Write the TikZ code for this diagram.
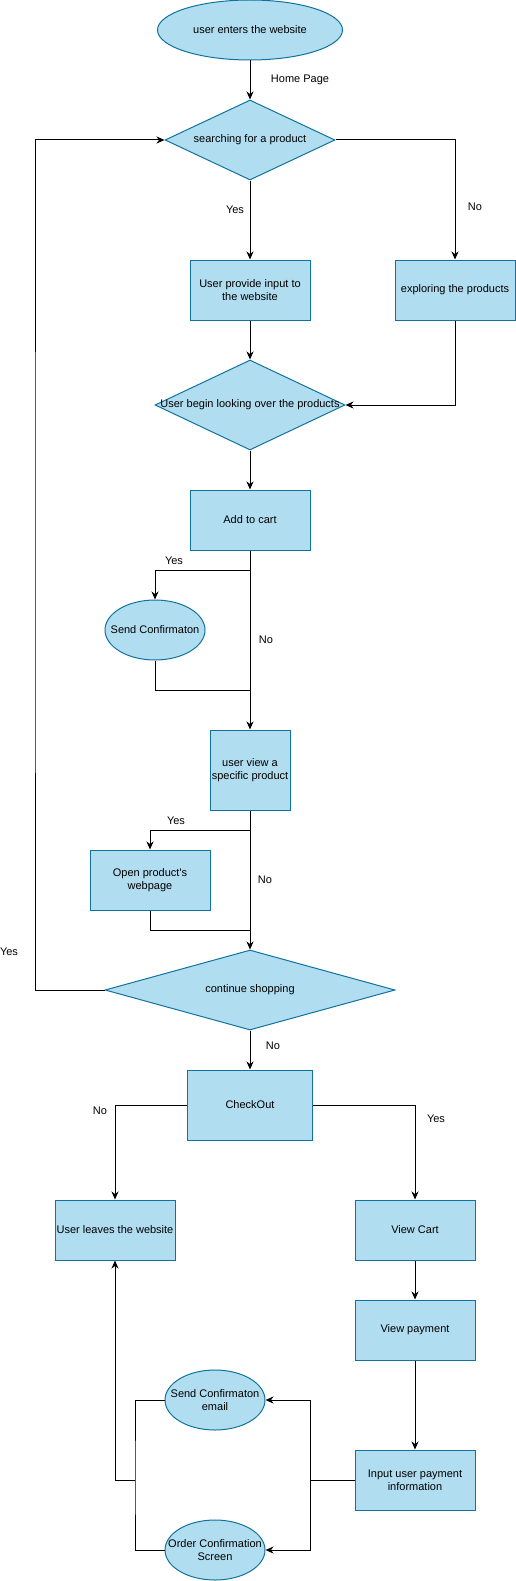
\documentclass[tikz,border=0pt]{standalone}
\usepackage{fontspec}
\setmainfont{Liberation Sans}
\usetikzlibrary{shapes.geometric,arrows.meta}

\definecolor{boxfill}{HTML}{B1DDF0}
\definecolor{boxline}{HTML}{10739E}

\tikzset{
  lbl/.style={font=\fontsize{11}{13}\selectfont, inner sep=0pt, align=center},
  flow/.style={draw=boxline, fill=boxfill, line width=1pt, inner sep=0pt,
    font=\fontsize{11}{13}\selectfont, align=center},
  stepbox/.style={flow, rectangle, minimum width=120pt, minimum height=60pt},
  oval/.style={flow, ellipse, minimum width=100pt, minimum height=60pt},
  decision/.style={flow, diamond},
  inside/.style={label={[lbl]center:#1}}
}

\begin{document}
\begin{tikzpicture}[x=1pt, y=-1pt, line width=1pt, >={Stealth[length=8pt,width=7pt,inset=2.5pt]}]
\useasboundingbox (0,0) rectangle (516,1581);

\node[oval, minimum width=185pt, inside={user enters the website}] (Enter) at (250, 30) {};
\node[decision, minimum width=170pt, minimum height=80pt, inside={searching for a product}] (Search) at (250, 140) {};
\node[stepbox] (Input) at (250, 290) {User provide input to\\the website};
\node[stepbox] (Explore) at (455, 290) {exploring the products};
\node[decision, minimum width=190pt, minimum height=90pt, inside={User begin looking over the products}] (Look) at (250, 405) {};
\node[stepbox] (Cart) at (250, 520) {Add to cart};
\node[oval, inside={Send Confirmaton}] (SendConf) at (155, 630) {};
\node[stepbox, minimum width=80pt, minimum height=80pt] (View) at (250, 770) {user view a\\specific product};
\node[stepbox] (Open) at (150, 880) {Open product\textquotesingle s\\webpage};
\node[decision, minimum width=290pt, minimum height=80pt, inside={continue shopping}] (Continue) at (250, 990) {};
\node[stepbox, minimum width=125pt, minimum height=70pt] (Checkout) at (250, 1105) {CheckOut};
\node[stepbox] (Leave) at (115, 1230) {User leaves the website};
\node[stepbox] (ViewCart) at (415, 1230) {View Cart};
\node[stepbox] (Payment) at (415, 1330) {View payment};
\node[stepbox] (InputPay) at (415, 1480) {Input user payment\\information};
\node[oval, inside={Send Confirmaton\\email}] (Email) at (215, 1400) {};
\node[oval, inside={Order Confirmation\\Screen}] (Screen) at (215, 1550) {};

\coordinate (CartSplit) at (250, 570);
\coordinate (CartJoin) at (250, 690);
\coordinate (ViewSplit) at (250, 830);
\coordinate (ViewJoin) at (250, 930);
\coordinate (Back) at (35, 560);
\coordinate (PayBus) at (310, 1480);
\coordinate (ConfBus) at (135, 1480);

% upper part
\draw[->] (Enter) -- node[lbl, xshift=50pt] {Home Page} (Search);
\draw[->] (Search) -- node[lbl, pos=0.375, xshift=-15pt] {Yes} (Input);
\draw[->] (Search.east) -| node[lbl, pos=0.78, xshift=20pt] {No} (Explore.north);
\draw[->] (Input) -- (Look);
\draw[->] (Explore.south) |- (Look.east);
\draw[->] (Look) -- (Cart);

% cart and product view
\draw[->] (Cart) -- node[lbl, pos=0.5, xshift=16pt] {No} (View);
\draw[->] (CartSplit) -| node[lbl, pos=0.4, yshift=9pt] {Yes} (SendConf);
\draw (SendConf) |- (CartJoin);
\draw[->] (View) -- node[lbl, pos=0.5, xshift=15pt] {No} (Continue);
\draw[->] (ViewSplit) -| node[lbl, pos=0.37, yshift=9pt] {Yes} (Open);
\draw (Open) |- (ViewJoin);
\draw[->] (Continue.west) -| node[lbl, pos=0.545, xshift=-26pt] {Yes} (Back) |- (Search.west);

% checkout
\draw[->] (Continue) -- node[lbl, pos=0.4, xshift=23pt] {No} (Checkout);
\draw[->] (Checkout.west) -| node[lbl, pos=0.53, xshift=-15pt] {No} (Leave.north);
\draw[->] (Checkout.east) -| node[lbl, pos=0.574, xshift=21pt] {Yes} (ViewCart.north);
\draw[->] (ViewCart) -- (Payment);
\draw[->] (Payment) -- (InputPay);
\draw (InputPay.west) -- (PayBus);
\draw[->] (PayBus) |- (Email.east);
\draw[->] (PayBus) |- (Screen.east);
\draw (Email.west) -| (ConfBus) |- (Screen.west);
\draw[->] (ConfBus) -| (Leave.south);
\end{tikzpicture}
\end{document}
